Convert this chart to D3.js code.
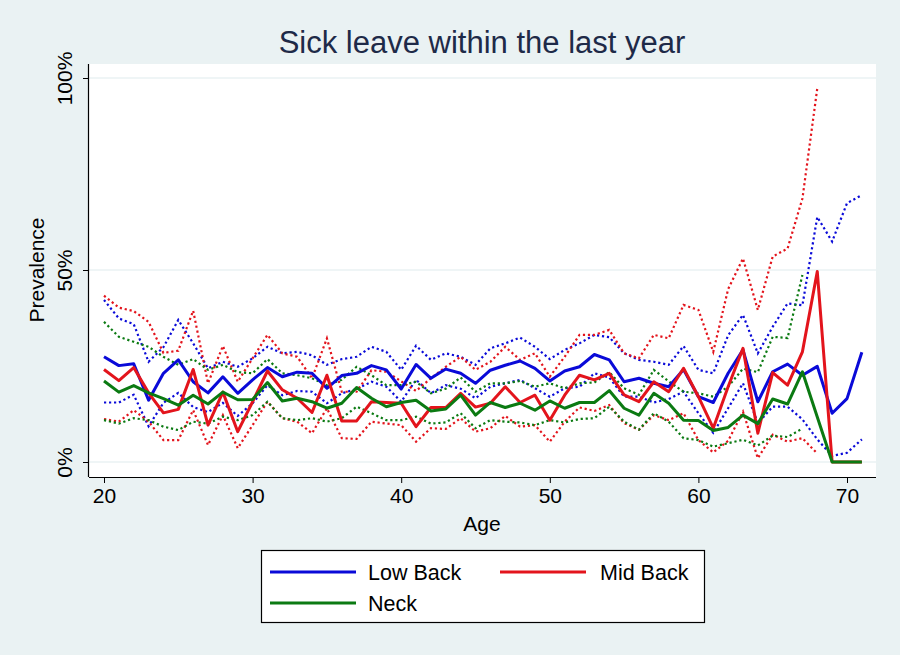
<!DOCTYPE html>
<html>
<head>
<meta charset="utf-8">
<script src="https://cdn.jsdelivr.net/npm/d3@7"></script>
<style>
  html, body { margin: 0; padding: 0; background: #EAF2F3; }
  svg { display: block; }
  text { font-family: "Liberation Sans", Arial, sans-serif; }
</style>
</head>
<body>
<svg id="chart" width="900" height="655"></svg>
<script>
// ---- data ----
const ages = d3.range(20, 72); // 20..71
const xTicks = [20, 30, 40, 50, 60, 70];
const yTicks = [0, 50, 100];
const yTickLabels = ["0%", "50%", "100%"];

const lowBack = [27.4,25.1,25.6,16.1,23.1,26.6,20.9,18.0,22.2,17.9,21.4,24.6,22.2,23.4,23.1,19.2,22.5,23.1,25.1,24.0,19.0,25.4,21.8,24.2,23.1,20.5,23.9,25.2,26.3,24.4,21.1,23.7,24.8,28.0,26.6,20.9,21.8,20.5,19.6,24.1,17.0,15.5,23.1,29.2,15.7,23.5,25.5,22.6,24.9,12.7,16.5,28.6];
const lowBackHi = [42.2,37.4,35.9,26.1,29.9,37.0,30.9,24.4,26.1,24.8,27.0,30.0,28.3,28.7,27.8,25.3,26.8,27.4,30.0,28.7,24.0,30.3,26.6,28.3,27.4,25.3,29.6,30.9,32.4,30.0,26.8,29.2,30.9,33.1,32.5,28.3,26.6,26.1,25.3,30.2,24.0,23.1,33.0,38.3,28.3,35.2,41.3,40.8,63.8,57.4,67.4,69.5];
const lowBackLo = [15.5,15.5,17.5,9.3,15.4,18.0,14.3,13.0,15.4,12.0,15.3,20.0,17.4,18.5,18.3,15.3,17.9,19.0,20.9,19.6,15.7,21.4,17.9,20.0,19.1,16.6,19.6,20.5,21.4,19.2,17.0,19.2,19.6,23.1,22.0,17.0,17.0,15.5,16.4,18.3,12.7,7.6,14.0,20.5,10.1,14.4,14.4,11.1,5.9,1.6,2.4,5.9];

const midBack = [24.1,21.2,24.6,18.0,12.8,13.7,24.1,9.6,18.2,7.9,15.7,23.7,18.8,16.6,12.9,22.6,10.7,10.7,15.7,15.5,15.3,9.2,14.2,14.2,17.9,14.3,15.3,19.6,15.5,17.4,10.9,17.4,22.6,21.4,23.1,17.5,15.7,20.9,18.3,24.4,17.0,8.8,19.6,29.6,7.5,23.3,20.0,28.7,49.6,0,0,0];
const midBackHi = [43.3,40.2,39.3,36.5,28.4,29.0,39.4,20.5,30.2,20.9,27.0,33.1,28.3,27.4,21.8,32.2,18.3,18.3,23.9,23.5,21.0,18.5,21.8,24.8,27.4,24.0,26.1,30.0,26.6,28.3,22.2,27.4,33.1,33.1,34.4,28.3,27.0,33.1,32.2,40.9,39.6,28.7,45.0,53.0,39.6,53.5,55.6,68.6,97.3,null,null,null];
const midBackLo = [11.2,10.5,13.5,10.5,5.7,5.7,13.5,4.4,12.2,3.6,9.6,15.7,11.4,10.5,7.5,14.0,6.2,6.0,10.5,10.0,9.6,5.3,8.8,8.6,11.4,7.9,8.8,12.0,9.2,9.6,5.3,10.5,14.2,13.3,14.8,10.1,8.4,12.2,10.9,12.7,5.7,2.5,5.5,13.1,1.0,7.1,5.3,6.2,2.2,null,null,null];

const neck = [21.1,18.2,19.9,18.0,16.5,14.8,17.4,15.1,18.2,16.2,16.3,20.7,15.9,16.6,15.7,14.0,15.3,19.4,16.6,14.4,15.5,16.1,13.3,13.8,17.4,12.2,15.5,14.2,15.3,13.5,15.9,14.0,15.5,15.5,18.6,14.0,12.2,17.9,15.3,10.9,10.8,8.2,9.0,12.2,10.0,16.4,15.1,23.5,11.7,0,0,0];
const neckHi = [36.5,32.6,31.3,30.0,27.4,25.3,26.8,24.0,25.3,23.4,23.1,26.8,23.1,22.6,21.8,20.0,21.4,24.8,22.6,20.0,20.0,20.9,17.9,19.1,22.0,18.3,20.5,20.5,21.1,19.6,20.5,19.2,20.5,20.7,23.4,19.2,17.5,24.0,21.0,18.3,17.9,17.0,19.6,24.3,23.4,32.6,32.3,48.7,null,null,null,null];
const neckLo = [10.9,10.0,11.4,10.9,9.2,8.3,10.5,10.0,11.8,10.9,12.2,15.7,11.4,10.9,11.4,10.5,11.4,14.4,12.7,10.9,10.9,11.8,10.0,10.3,12.7,8.8,10.9,10.5,10.3,9.6,10.9,10.3,11.2,11.4,14.4,10.5,8.4,12.7,10.5,6.2,5.7,4.0,4.9,5.8,4.3,6.9,6.5,8.7,null,null,null,null];

const seriesNames = ["Low Back", "Mid Back", "Neck"];
const colors = ["#0a0ad8", "#e3141c", "#0b7a12"];

// ---- chart ----
const svg = d3.select("#chart");
const W = 900, H = 655;
const plot = { left: 89, right: 876, top: 64, bottom: 477 };

const x = d3.scaleLinear().domain([20, 70]).range([104, 847]);
const y = d3.scaleLinear().domain([0, 100]).range([462, 78]);

svg.append("rect").attr("width", W).attr("height", H).attr("fill", "#EAF2F3");
svg.append("rect")
  .attr("x", plot.left).attr("y", plot.top)
  .attr("width", plot.right - plot.left).attr("height", plot.bottom - plot.top)
  .attr("fill", "#ffffff");

// gridlines
svg.append("g").selectAll("line").data(yTicks).join("line")
  .attr("x1", plot.left).attr("x2", plot.right)
  .attr("y1", d => y(d)).attr("y2", d => y(d))
  .attr("stroke", "#EAF2F3").attr("stroke-width", 1.6);

// title
svg.append("text")
  .attr("x", 482).attr("y", 53)
  .attr("text-anchor", "middle")
  .attr("font-size", 31)
  .attr("fill", "#1E2A48")
  .text("Sick leave within the last year");

// lines
const line = d3.line()
  .defined(d => d[1] !== null)
  .x(d => x(d[0])).y(d => y(d[1]));

const cis = [[lowBackHi, lowBackLo], [midBackHi, midBackLo], [neckHi, neckLo]];
const ests = [lowBack, midBack, neck];

const g = svg.append("g");
cis.forEach((pair, i) => {
  pair.forEach(arr => {
    g.append("path")
      .datum(ages.map((a, j) => [a, arr[j]]))
      .attr("d", line)
      .attr("fill", "none")
      .attr("stroke", colors[i])
      .attr("stroke-width", 2.2)
      .attr("stroke-dasharray", "2.2,2.8");
  });
});
ests.forEach((arr, i) => {
  g.append("path")
    .datum(ages.map((a, j) => [a, arr[j]]))
    .attr("d", line)
    .attr("fill", "none")
    .attr("stroke", colors[i])
    .attr("stroke-width", 3)
    .attr("stroke-linejoin", "round");
});

// x axis
const xAxis = svg.append("g")
  .attr("transform", `translate(0,${plot.bottom})`)
  .call(d3.axisBottom(x).tickValues(xTicks).tickSize(6).tickPadding(5).tickFormat(d3.format("d")));
xAxis.select(".domain").attr("d", `M${plot.left},0.5H${plot.right}`).attr("stroke", "#000").attr("stroke-width", 1.2);
xAxis.selectAll(".tick line").attr("stroke", "#000");
xAxis.selectAll(".tick text").attr("font-size", 21).attr("fill", "#000")
  .attr("font-family", "'Liberation Sans', Arial, sans-serif");

// y axis
const yAxis = svg.append("g")
  .attr("transform", `translate(${plot.left},0)`)
  .call(d3.axisLeft(y).tickValues(yTicks).tickSize(6).tickFormat((d, i) => yTickLabels[i]));
yAxis.select(".domain").attr("d", `M-0.5,${plot.top}V${plot.bottom}`).attr("stroke", "#000").attr("stroke-width", 1.2);
yAxis.selectAll(".tick line").attr("stroke", "#000");
yAxis.selectAll(".tick text")
  .attr("font-size", 21).attr("fill", "#000")
  .attr("font-family", "'Liberation Sans', Arial, sans-serif")
  .attr("text-anchor", "middle")
  .attr("x", 0).attr("dy", 0)
  .attr("transform", "translate(-17,0) rotate(-90)");

// axis titles
svg.append("text")
  .attr("x", 482).attr("y", 531)
  .attr("text-anchor", "middle").attr("font-size", 21).attr("fill", "#000")
  .text("Age");
svg.append("text")
  .attr("transform", "translate(44,270) rotate(-90)")
  .attr("text-anchor", "middle").attr("font-size", 21).attr("fill", "#000")
  .text("Prevalence");

// legend
const lg = svg.append("g");
lg.append("rect").attr("x", 261.5).attr("y", 550.5).attr("width", 443).attr("height", 72)
  .attr("fill", "#fff").attr("stroke", "#000").attr("stroke-width", 1.2);
const legPos = [
  { lx: 270, ly: 572, tx: 368 },
  { lx: 500, ly: 572, tx: 600 },
  { lx: 270, ly: 603, tx: 368 }
];
seriesNames.forEach((name, i) => {
  const p = legPos[i];
  lg.append("line").attr("x1", p.lx).attr("x2", p.lx + 86)
    .attr("y1", p.ly).attr("y2", p.ly)
    .attr("stroke", colors[i]).attr("stroke-width", 3);
  lg.append("text").attr("x", p.tx).attr("y", p.ly + 8)
    .attr("font-size", 21.5).attr("fill", "#000").text(name);
});
</script>
</body>
</html>
